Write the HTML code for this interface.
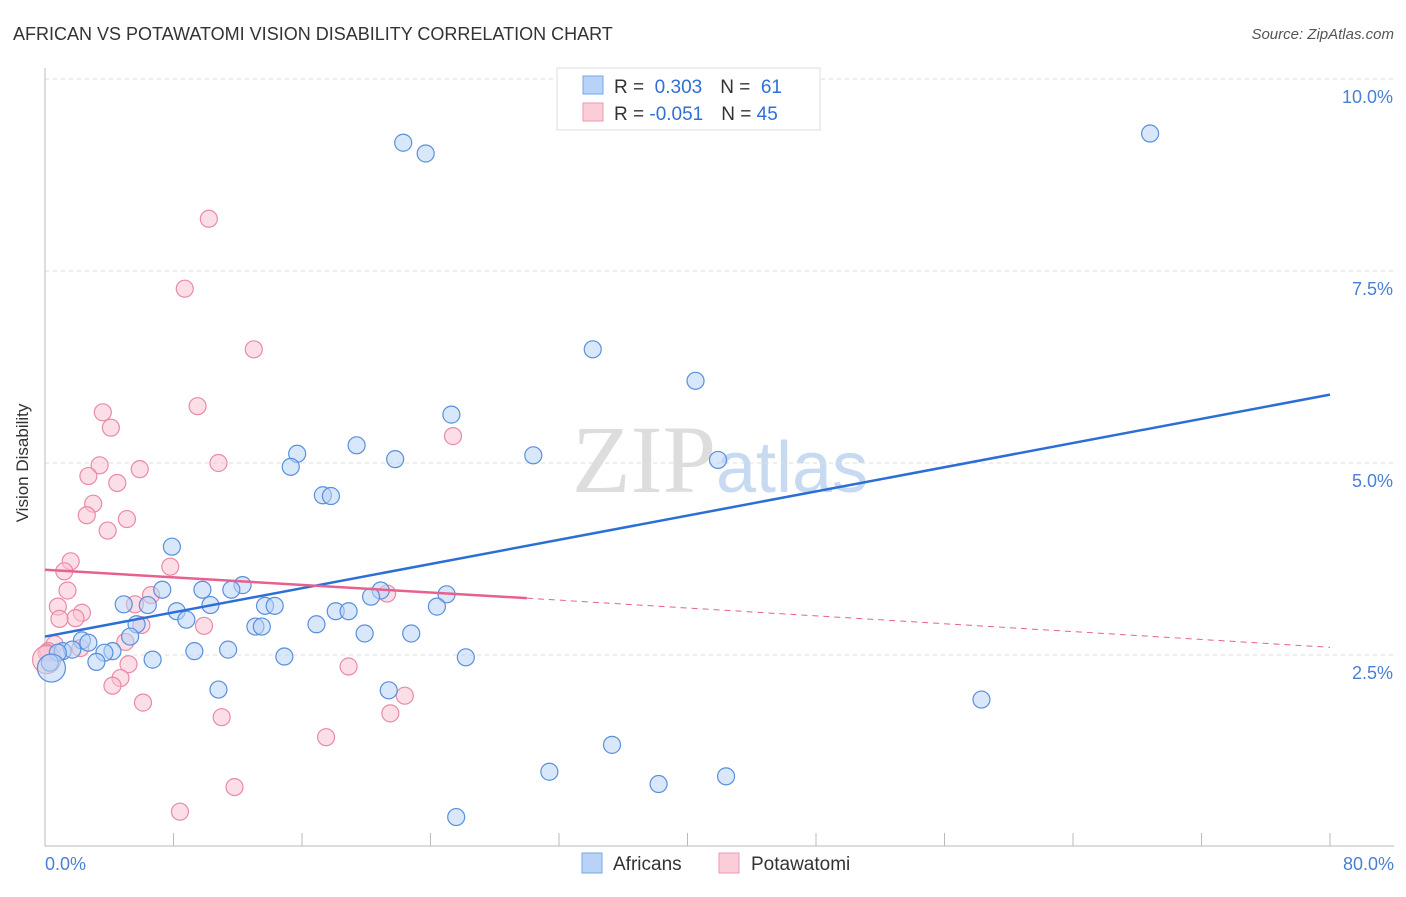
<!DOCTYPE html>
<html><head><meta charset="utf-8"><style>
body{margin:0;background:#fff;font-family:"Liberation Sans",sans-serif}
</style></head><body>
<svg width="1406" height="892" xmlns="http://www.w3.org/2000/svg" font-family="Liberation Sans, sans-serif">
<text x="13" y="40" font-size="18" fill="#333">AFRICAN VS POTAWATOMI VISION DISABILITY CORRELATION CHART</text>
<text x="1394" y="39" font-size="15" fill="#555" text-anchor="end" font-style="italic">Source: ZipAtlas.com</text>
<text x="720" y="492" font-size="96" fill="#ddd" text-anchor="middle" font-family="Liberation Serif, serif">ZIP<tspan fill="#c8daf2" font-family="Liberation Sans, sans-serif" font-size="72">atlas</tspan></text>
<g id="grid"></g>
<line x1="45" y1="68" x2="45" y2="846" stroke="#bbb"/>
<line x1="45" y1="846" x2="1394" y2="846" stroke="#bbb"/>
<g id="ticks"></g>
<g id="pts"></g>
<g id="lines"></g>
<text x="20" y="455" font-size="17" fill="#333" text-anchor="middle" transform="rotate(-90 28 455)">Vision Disability</text>
<text x="45" y="870" font-size="18" fill="#4a7fd4">0.0%</text>
<text x="1394" y="870" font-size="18" fill="#4a7fd4" text-anchor="end">80.0%</text>
<g>
<rect x="557" y="68" width="263" height="62" fill="#fff" stroke="#ddd"/>
<rect x="583" y="76" width="20" height="18" fill="#b8d3f5" stroke="#7aa6e6"/>
<rect x="583" y="103" width="20" height="18" fill="#fbcdd9" stroke="#ee9ab2"/>
<text x="614" y="93" font-size="19" fill="#333">R = <tspan fill="#2f6fd6">&#160;0.303</tspan><tspan dx="18">N = </tspan><tspan fill="#2f6fd6">&#160;61</tspan></text>
<text x="614" y="120" font-size="19" fill="#333">R = <tspan fill="#2f6fd6">-0.051</tspan><tspan dx="18">N = </tspan><tspan fill="#2f6fd6">45</tspan></text>
</g>
<g>
<rect x="582" y="853" width="20" height="20" fill="#b8d3f5" stroke="#7aa6e6"/>
<text x="613" y="870" font-size="19" fill="#333">Africans</text>
<rect x="719" y="853" width="20" height="20" fill="#fbcdd9" stroke="#ee9ab2"/>
<text x="751" y="870" font-size="19" fill="#333">Potawatomi</text>
</g>
</svg>
<script>
const yTicks=[2.5,5.0,7.5,10.0];
const xTickVals=[0,8,16,24,32,40,48,56,64,72,80];
const africansX=[22.3,23.7,68.8,34.1,40.5,25.3,19.4,30.4,41.9,15.7,21.8,15.3,17.3,17.8,7.9,12.3,9.8,7.3,11.6,20.9,20.3,25.0,4.9,6.4,10.3,13.7,14.3,24.4,8.2,18.1,18.9,8.8,16.9,13.1,13.5,5.7,19.9,22.8,2.3,2.7,5.3,4.2,3.7,1.1,1.7,9.3,11.4,0.8,0.3,3.2,6.7,14.9,26.2,10.8,21.4,58.3,35.3,31.4,42.4,38.2,25.6,0.4];
const africansY=[9.17,9.03,9.29,6.48,6.07,5.63,5.23,5.10,5.04,5.12,5.05,4.95,4.58,4.57,3.91,3.41,3.35,3.35,3.35,3.34,3.26,3.29,3.16,3.15,3.15,3.14,3.14,3.13,3.07,3.07,3.07,2.96,2.90,2.87,2.87,2.90,2.78,2.78,2.69,2.66,2.74,2.55,2.53,2.55,2.57,2.55,2.57,2.53,2.40,2.41,2.44,2.48,2.47,2.05,2.04,1.92,1.33,0.98,0.92,0.82,0.39,2.33];
const potaX=[10.2,8.7,13.0,9.5,3.6,4.1,25.4,3.4,10.8,5.9,2.7,4.5,3.0,5.1,2.6,3.9,1.6,7.8,1.2,1.4,6.6,0.8,2.3,5.6,1.9,0.9,6.0,9.9,21.3,5.0,0.6,0.2,2.2,5.2,0.1,4.7,4.2,18.9,6.1,11.0,21.5,22.4,17.5,11.8,8.4,0.1];
const potaY=[8.18,7.27,6.48,5.74,5.66,5.46,5.35,4.97,5.00,4.92,4.83,4.74,4.47,4.27,4.32,4.12,3.72,3.65,3.59,3.34,3.28,3.13,3.05,3.16,2.98,2.97,2.89,2.88,3.30,2.67,2.64,2.55,2.59,2.38,2.53,2.20,2.10,2.35,1.88,1.69,1.74,1.97,1.43,0.78,0.46,2.44];
const blueTrend=[0.0,2.74,80.0,5.89];
const pinkTrend=[0.0,3.61,30.0,3.24,80.0,2.60];
const NS='http://www.w3.org/2000/svg';
const xs=v=>45+v/80*1285;
const ys=v=>847-v/2.5*192;
function mk(tag,parent,attrs){const e=document.createElementNS(NS,tag);for(const k in attrs)e.setAttribute(k,attrs[k]);parent.appendChild(e);return e;}
const grid=document.getElementById('grid');
yTicks.forEach(t=>{
 const l=mk('line',grid,{x1:45,x2:1394,y1:ys(t),y2:ys(t),stroke:'#ddd','stroke-dasharray':'4 4'});
 
 
 const tx=mk('text',grid,{x:1393,y:ys(t)+24,'font-size':18,fill:'#4a7fd4','text-anchor':'end'});
 tx.textContent=t.toFixed(1)+'%';
 
 
});
const tg=document.getElementById('ticks');
xTickVals.forEach(v=>{
 const l=mk('line',tg,{x1:xs(v),x2:xs(v),y1:833,y2:846,stroke:'#bbb'});
 
 
});
const pg=document.getElementById('pts');
function dots(X,Y,fill,stroke,name){X.forEach((x,i)=>{
 const r=(i===X.length-1)?14:8.5;
 const c=mk('circle',pg,{cx:xs(x),cy:ys(Y[i]),r:r,fill:fill,'fill-opacity':0.55,stroke:stroke,'stroke-width':1.2});
 
 
});}
dots(potaX,potaY,'#f9c3d3','#e98aa8','potawatomi-point');
dots(africansX,africansY,'#b8d3f5','#5a8fdc','africans-point');
const lg=document.getElementById('lines');
const bl=mk('line',lg,{x1:xs(blueTrend[0]),y1:ys(blueTrend[1]),x2:xs(blueTrend[2]),y2:ys(blueTrend[3]),stroke:'#2b6fd6','stroke-width':2.5});


const pl=mk('line',lg,{x1:xs(pinkTrend[0]),y1:ys(pinkTrend[1]),x2:xs(pinkTrend[2]),y2:ys(pinkTrend[3]),stroke:'#e8608f','stroke-width':2.5});


const pd=mk('line',lg,{x1:xs(pinkTrend[2]),y1:ys(pinkTrend[3]),x2:xs(pinkTrend[4]),y2:ys(pinkTrend[5]),stroke:'#e8608f','stroke-width':1,'stroke-dasharray':'6 5'});


</script>
</body></html>
